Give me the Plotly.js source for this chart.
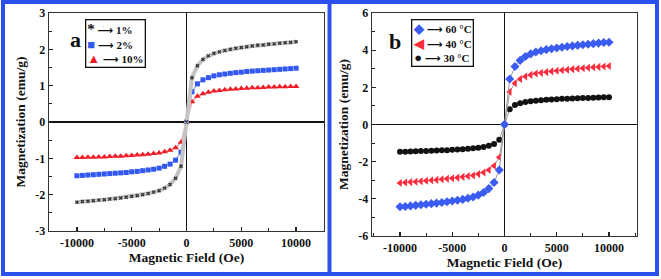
<!DOCTYPE html>
<html><head><meta charset="utf-8">
<script src="https://cdn.plot.ly/plotly-3.0.1.min.js"></script>
<style>html,body{margin:0;padding:0;background:#fff}#chart{width:661px;height:279px}</style>
</head><body><div id="chart"></div>
<script>
// Magnetic field (Oe)
const field = [-10000,-9500,-9000,-8500,-8000,-7500,-7000,-6500,-6000,-5500,-5000,-4500,-4000,-3500,-3000,-2500,-2000,-1500,-1000,-500,
  0,500,1000,1500,2000,2500,3000,3500,4000,4500,5000,5500,6000,6500,7000,7500,8000,8500,9000,9500,10000];

// Panel a: magnetization (emu/g) for doping levels
const m1pct = [-2.21,-2.19,-2.18,-2.17,-2.15,-2.14,-2.12,-2.11,-2.09,-2.07,-2.05,-2.03,-2.00,-1.97,-1.93,-1.89,-1.82,-1.72,-1.55,-1.22,
  0,1.22,1.55,1.72,1.82,1.89,1.93,1.97,2.00,2.03,2.05,2.07,2.09,2.11,2.12,2.14,2.15,2.17,2.18,2.19,2.21];
const m2pct = [-1.48,-1.47,-1.46,-1.45,-1.44,-1.43,-1.42,-1.41,-1.40,-1.39,-1.37,-1.36,-1.34,-1.32,-1.30,-1.27,-1.22,-1.16,-1.05,-0.83,
  0,0.83,1.05,1.16,1.22,1.27,1.30,1.32,1.34,1.36,1.37,1.39,1.40,1.41,1.42,1.43,1.44,1.45,1.46,1.47,1.48];
const m10pct = [-0.98,-0.98,-0.97,-0.97,-0.96,-0.96,-0.95,-0.94,-0.94,-0.93,-0.92,-0.91,-0.90,-0.89,-0.87,-0.85,-0.82,-0.78,-0.71,-0.56,
  0,0.56,0.71,0.78,0.82,0.85,0.87,0.89,0.90,0.91,0.92,0.93,0.94,0.94,0.95,0.96,0.96,0.97,0.97,0.98,0.98];

// Panel b: magnetization (emu/g) for temperatures
const m60C = [-4.43,-4.41,-4.38,-4.35,-4.32,-4.29,-4.26,-4.23,-4.20,-4.16,-4.12,-4.08,-4.03,-3.97,-3.90,-3.80,-3.66,-3.45,-3.12,-2.45,
  0,2.45,3.12,3.45,3.66,3.80,3.90,3.97,4.03,4.08,4.12,4.16,4.20,4.23,4.26,4.29,4.32,4.35,4.38,4.41,4.43];
const m40C = [-3.15,-3.12,-3.10,-3.08,-3.05,-3.03,-3.00,-2.98,-2.95,-2.92,-2.89,-2.86,-2.82,-2.78,-2.74,-2.67,-2.58,-2.45,-2.22,-1.76,
  0,1.76,2.22,2.45,2.58,2.67,2.74,2.78,2.82,2.86,2.89,2.92,2.95,2.98,3.00,3.03,3.05,3.08,3.10,3.12,3.15];
const m30C = [-1.47,-1.46,-1.45,-1.44,-1.43,-1.42,-1.41,-1.40,-1.39,-1.38,-1.36,-1.35,-1.33,-1.31,-1.28,-1.25,-1.21,-1.15,-1.05,-0.82,
  0,0.82,1.05,1.15,1.21,1.25,1.28,1.31,1.33,1.35,1.36,1.38,1.39,1.40,1.41,1.42,1.43,1.44,1.45,1.46,1.47];

const xTicksA = [-10000,-5000,0,5000,10000];
const yTicksA = [-3,-2,-1,0,1,2,3];
const yTicksB = [-6,-4,-2,0,2,4,6];
const legendA = ['1%','2%','10%'];
const legendB = ['60 °C','40 °C','30 °C'];

const W = 661, H = 279;
const px = v => v / W, py = v => 1 - v / H;
const SERIF = 'Liberation Serif, Times New Roman, serif';

function curve(x, y, xa, ya, lineColor, lineWidth, sym, mColor, mSize, mLine) {
  return [
    {x, y, xaxis: xa, yaxis: ya, mode: 'lines', line: {color: lineColor, width: lineWidth}, showlegend: false, hoverinfo: 'skip'},
    {x, y, xaxis: xa, yaxis: ya, mode: 'markers', showlegend: false,
     marker: {symbol: sym, size: mSize, color: mColor, line: mLine || {width: 0}}}
  ];
}

const traces = [].concat(
  curve(field, m10pct, 'x', 'y', '#f2a0a8', 1.5, 'triangle-up', '#ee1c24', 6),
  curve(field, m2pct, 'x', 'y', '#a8b4e8', 1.5, 'square', '#3358f0', 5),
  curve(field, m1pct, 'x', 'y', '#c4c4c4', 4, 'x-thin-open', '#333', 3, {color: '#333', width: 1.4}),
  curve(field, m30C, 'x2', 'y2', '#9a9a9a', 1, 'circle', '#111', 6),
  curve(field, m40C, 'x2', 'y2', '#9a9a9a', 1, 'triangle-left', '#ff2a3c', 7),
  curve(field, m60C, 'x2', 'y2', '#9a9a9a', 1, 'diamond', '#3a5cf0', 7)
);

const tickFont = {family: SERIF, size: 12, color: '#111'};
const titleFont = {family: SERIF, size: 13.5, color: '#111'};
const bold = v => '<b>' + v + '</b>';

function xAxis(domain, range, anchor) {
  return {domain, range, anchor, tickmode: 'array', tickvals: xTicksA, ticktext: xTicksA.map(bold),
    ticks: 'inside', ticklen: 4, tickwidth: 1.3, tickcolor: '#222',
    minor: {ticks: 'inside', dtick: 2500, tick0: 0, ticklen: 3, tickwidth: 1, tickcolor: '#222'},
    showline: true, mirror: true, linecolor: '#333', linewidth: 1.3,
    zeroline: true, zerolinecolor: '#111', zerolinewidth: 1.5, showgrid: false,
    tickfont: tickFont, title: {text: bold('Magnetic Field (Oe)'), font: titleFont, standoff: 1}, fixedrange: true};
}
function yAxis(domain, range, anchor, tv, minorDt) {
  return {domain, range, anchor, tickmode: 'array', tickvals: tv, ticktext: tv.map(bold),
    ticks: 'inside', ticklen: 4, tickwidth: 1.3, tickcolor: '#222',
    minor: {ticks: 'inside', dtick: minorDt, tick0: 0, ticklen: 3, tickwidth: 1, tickcolor: '#222'},
    showline: true, mirror: true, linecolor: '#333', linewidth: 1.3,
    zeroline: true, zerolinecolor: '#111', zerolinewidth: 1.5, showgrid: false,
    tickfont: tickFont, title: {text: bold('Magnetization (emu/g)'), font: titleFont, standoff: 6}, fixedrange: true};
}

const arrow = '<span style="font-family:DejaVu Sans">⟶</span>';
function legendText(symbols, labels) {
  return symbols.map((s, i) => s + ' ' + arrow + ' ' + labels[i]).join('<br>');
}
const symA = ['<span style="color:#111;font-size:15px">*</span>', '<span style="color:#3358f0;font-size:13px">■</span>', '<span style="color:#ee1c24;font-size:13px">▲</span>'];
const symB = ['<span style="color:#3a5cf0;font-size:13px">◆</span>', '<span style="color:#ff2a3c;font-size:13px">◀</span>', '<span style="color:#111;font-size:13px">●</span>'];

const BLUE = '#2c50ee';
const layout = {
  width: W, height: H, margin: {l: 0, r: 0, t: 0, b: 0},
  paper_bgcolor: '#fff', plot_bgcolor: '#fff', showlegend: false,
  font: {family: SERIF, color: '#111'},
  xaxis: xAxis([px(49), px(324)], [-12545, 12545], 'y'),
  yaxis: yAxis([py(231), py(13)], [-3, 3], 'x', yTicksA, 0.5),
  xaxis2: xAxis([px(372), px(637)], [-12680, 12680], 'y2'),
  yaxis2: yAxis([py(236), py(13)], [-6, 6], 'x2', yTicksB, 1),
  shapes: [
    {type: 'rect', xref: 'paper', yref: 'paper', x0: px(3), x1: px(657), y0: py(274), y1: py(2),
     line: {color: BLUE, width: 4}},
    {type: 'line', xref: 'paper', yref: 'paper', x0: px(329.5), x1: px(329.5), y0: py(274), y1: py(2),
     line: {color: BLUE, width: 4}}
  ],
  annotations: [
    {xref: 'paper', yref: 'paper', x: px(68), y: py(25), text: '<b>a</b>', showarrow: false,
     font: {family: SERIF, size: 22, color: '#111'}},
    {xref: 'paper', yref: 'paper', x: px(395), y: py(27), text: '<b>b</b>', showarrow: false,
     font: {family: SERIF, size: 22, color: '#111'}},
    {xref: 'paper', yref: 'paper', x: px(85), y: py(19), xanchor: 'left', yanchor: 'top', align: 'left',
     text: '<b>' + legendText(symA, legendA) + '</b>', showarrow: false,
     font: {family: SERIF, size: 11, color: '#111'}, bordercolor: '#111', borderwidth: 1.3, borderpad: 1, bgcolor: '#fff'},
    {xref: 'paper', yref: 'paper', x: px(411), y: py(19), xanchor: 'left', yanchor: 'top', align: 'left',
     text: '<b>' + legendText(symB, legendB) + '</b>', showarrow: false,
     font: {family: SERIF, size: 11, color: '#111'}, bordercolor: '#111', borderwidth: 1.3, borderpad: 1, bgcolor: '#fff'}
  ]
};

Plotly.newPlot('chart', traces, layout, {displayModeBar: false, staticPlot: true});
</script>
</body></html>
